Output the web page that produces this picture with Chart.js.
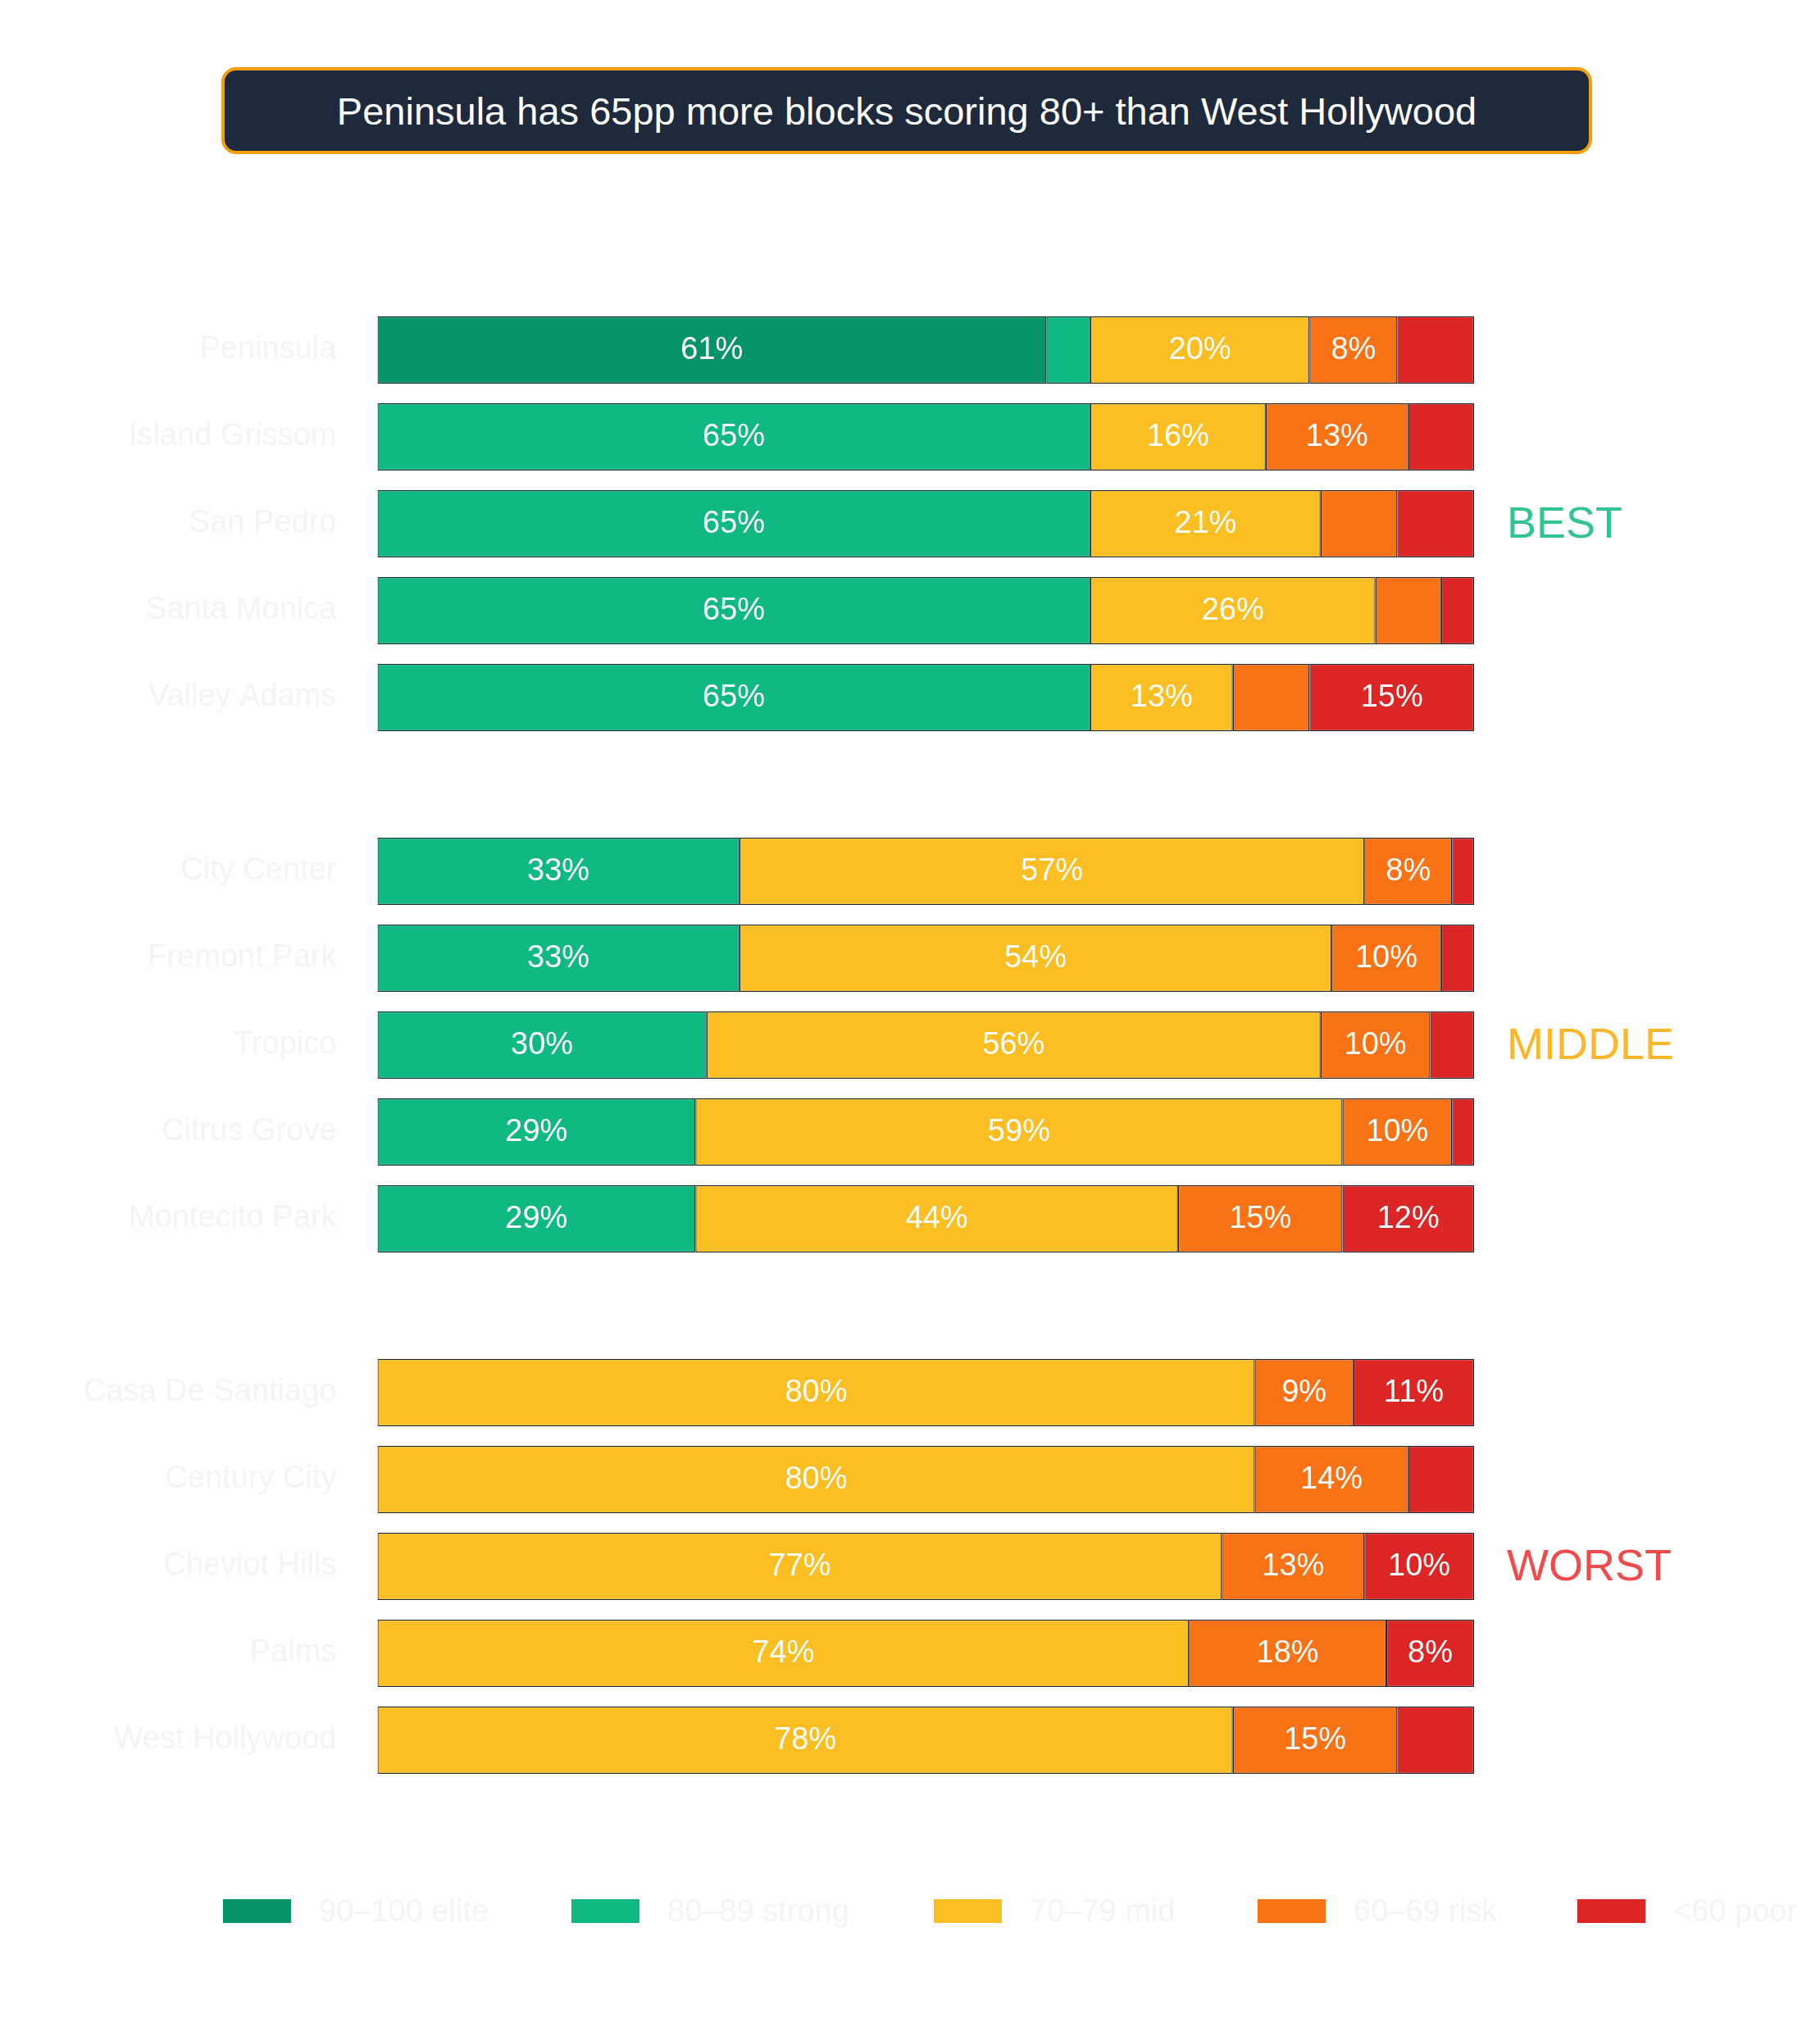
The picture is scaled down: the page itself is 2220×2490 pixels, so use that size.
<!DOCTYPE html>
<html><head><meta charset="utf-8">
<script src="https://cdn.jsdelivr.net/npm/chart.js@4"></script>
<style>
html,body{margin:0;padding:0;background:#fff;width:2220px;height:2490px;overflow:hidden;font-family:"Liberation Sans",Arial,sans-serif}
#wrap{position:absolute;left:0;top:0;width:2220px;height:2490px}
#title{position:absolute;left:270px;top:82px;width:1672px;height:106px;box-sizing:border-box;background:#1e293b;border:4px solid #f59e0b;border-radius:18px;color:#fff;font-size:47px;display:flex;align-items:center;justify-content:center}
#legend{position:absolute;top:2310px;left:0;width:2220px;height:40px}
.li{position:absolute;top:0;display:flex;align-items:center;font-size:38px;color:#f3f4f6}
.sw{width:83px;height:29px;margin-right:34px}
</style></head><body>
<div id="wrap"><canvas id="c" width="2220" height="2490"></canvas></div>
<div id="title">Peninsula has 65pp more blocks scoring 80+ than West Hollywood</div>
<div id="legend"></div>
<script>
const categories=["Peninsula","Island Grissom","San Pedro","Santa Monica","Valley Adams","",
"City Center","Fremont Park","Tropico","Citrus Grove","Montecito Park","",
"Casa De Santiago","Century City","Cheviot Hills","Palms","West Hollywood"];
const seriesNames=["90–100 elite","80–89 strong","70–79 mid","60–69 risk","<60 poor"];
const elite=[61,0,0,0,0,null,0,0,0,0,0,null,0,0,0,0,0];
const strong=[4,65,65,65,65,null,33,33,30,29,29,null,0,0,0,0,0];
const mid=[20,16,21,26,13,null,57,54,56,59,44,null,80,80,77,74,78];
const risk=[8,13,7,6,7,null,8,10,10,10,15,null,9,14,13,18,15];
const poor=[7,6,7,3,15,null,2,3,4,2,12,null,11,6,10,8,7];
const groupLabels=["BEST","MIDDLE","WORST"];
const groupCenters=[2,8,14];
const colors=["#05946a","#10b981","#fbbf24","#f97316","#dc2626"];
const groupColors=["#34c48f","#fbb62a","#ef4b4b"];
const values=[elite,strong,mid,risk,poor];

const lg=document.getElementById('legend');
const lx=[272,697,1139,1534,1924];
seriesNames.forEach((n,i)=>{const d=document.createElement('div');d.className='li';d.style.left=lx[i]+'px';
d.innerHTML='<div class="sw" style="background:'+colors[i]+'"></div>'+n;lg.appendChild(d);});

const labelsPlugin={id:'lbl',afterDatasetsDraw(chart){
 const ctx=chart.ctx;ctx.save();ctx.font='38px "Liberation Sans",Arial';ctx.fillStyle='#fff';ctx.textAlign='center';ctx.textBaseline='middle';
 chart.data.datasets.forEach((ds,di)=>{chart.getDatasetMeta(di).data.forEach((b,i)=>{const v=ds.data[i];
  if(v!=null&&v>=8){ctx.fillText(v+'%',(b.x+b.base)/2,b.y+1);}});});
 ctx.font='54px "Liberation Sans",Arial';ctx.textAlign='left';
 const y=chart.scales.y;
 groupLabels.forEach((g,i)=>{ctx.fillStyle=groupColors[i];ctx.fillText(g,1838,y.getPixelForValue(groupCenters[i])+2);});
 ctx.restore();}};

new Chart(document.getElementById('c'),{type:'bar',
data:{labels:categories,datasets:values.map((v,i)=>({label:seriesNames[i],data:v,backgroundColor:colors[i],borderColor:'#1f2937',borderWidth:1.3,borderSkipped:false,barPercentage:0.775,categoryPercentage:1}))},
options:{indexAxis:'y',responsive:false,animation:false,
layout:{padding:{top:374,bottom:314,left:60,right:422}},
plugins:{legend:{display:false},tooltip:{enabled:false}},
scales:{x:{stacked:true,min:0,max:100,display:false},
y:{stacked:true,grid:{display:false},border:{display:false},ticks:{color:'#f3f4f6',font:{size:38,family:'"Liberation Sans",Arial'},padding:42}}}},
plugins:[labelsPlugin]});
</script></body></html>
